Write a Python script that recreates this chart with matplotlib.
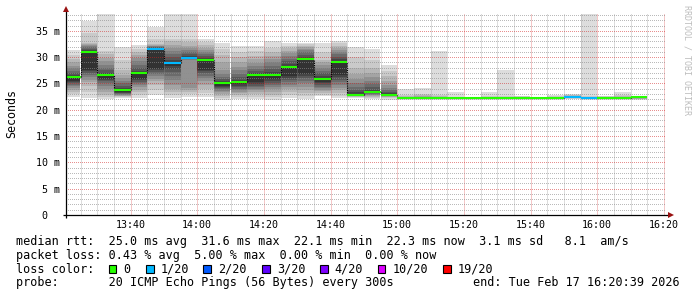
import numpy as np
import pandas as pd
import matplotlib
matplotlib.use("Agg")
import matplotlib.pyplot as plt
import matplotlib.dates as mdates
from matplotlib.patches import Rectangle
from matplotlib.transforms import blended_transform_factory

W, H = 697, 297
MONO = "DejaVu Sans Mono"

# 5 minute steps, first one starts 13:20 (cut by the left edge)
step_times = pd.date_range("2026-02-17 13:20", periods=35, freq="5min")
view_start = pd.Timestamp("2026-02-17 13:20:39")
view_end = pd.Timestamp("2026-02-17 16:20:39")

median_ms = [26.2, 31.0, 26.6, 23.8, 26.9, 31.6, 28.9, 29.9, 29.4, 25.0,
             25.2, 26.6, 26.6, 28.2, 29.7, 25.9, 29.1, 22.9, 23.3, 22.9,
             22.2, 22.3, 22.3, 22.2, 22.2, 22.3, 22.2, 22.3, 22.2, 22.2,
             22.5, 22.2, 22.3, 22.3, 22.4]
lost_pings = [0, 0, 0, 0, 0, 1, 1, 1, 0, 0,
              0, 0, 0, 0, 0, 0, 0, 0, 0, 0,
              0, 0, 0, 0, 0, 0, 0, 0, 0, 0,
              1, 1, 0, 0, 0]

# 20 sorted ping rtts (ms) for each step
pings_ms = [
    [22.4, 23.0, 23.3, 23.7, 24.1, 24.5, 24.8, 25.0, 25.2, 25.4, 26.2, 26.6, 27.0, 27.4, 27.9, 28.4, 29.0, 29.7, 30.4, 31.4],
    [22.2, 23.4, 24.6, 25.2, 25.7, 26.2, 26.6, 27.0, 27.3, 27.6, 31.0, 31.3, 31.6, 31.9, 32.1, 32.3, 32.5, 32.7, 34.5, 36.8],
    [22.0, 22.4, 22.8, 23.3, 23.9, 24.5, 25.0, 25.4, 25.7, 25.9, 26.6, 27.0, 27.5, 28.0, 28.6, 29.2, 29.9, 30.6, 31.1, 40.0],
    [22.3, 22.5, 22.6, 22.7, 22.8, 22.9, 23.0, 23.1, 23.2, 23.3, 23.8, 24.2, 24.6, 25.0, 25.5, 26.0, 26.6, 27.6, 29.5, 31.9],
    [22.3, 22.8, 23.3, 23.8, 24.3, 24.7, 25.0, 25.3, 25.6, 25.9, 26.9, 27.4, 28.0, 28.6, 29.2, 29.8, 30.4, 31.0, 31.6, 32.3],
    [22.8, 23.8, 24.8, 25.4, 25.9, 26.4, 26.8, 27.2, 27.5, 27.8, 31.6, 31.8, 31.9, 32.0, 32.1, 32.2, 32.3, 32.5, 33.5, 35.8],
    [22.3, 22.8, 23.4, 24.0, 24.8, 25.6, 26.4, 27.2, 27.8, 28.3, 28.9, 29.5, 30.0, 30.6, 31.2, 31.8, 32.4, 33.0, 33.4, 40.0],
    [22.5, 23.0, 23.4, 23.8, 24.1, 29.5, 29.6, 29.7, 29.8, 29.85, 29.9, 30.3, 30.6, 30.9, 31.3, 31.7, 32.2, 32.8, 33.4, 40.0],
    [22.4, 23.2, 24.0, 24.8, 25.4, 26.0, 26.5, 27.0, 27.3, 27.6, 29.4, 29.8, 30.2, 30.6, 31.0, 31.4, 31.8, 32.3, 32.8, 33.4],
    [21.9, 22.3, 22.7, 23.0, 23.3, 23.6, 23.9, 24.1, 24.3, 24.5, 25.0, 25.4, 25.8, 26.2, 26.8, 27.5, 29.0, 30.5, 31.5, 32.7],
    [22.0, 22.4, 22.8, 23.1, 23.4, 23.7, 24.0, 24.3, 24.6, 24.9, 25.2, 25.6, 26.2, 26.8, 27.5, 28.2, 29.0, 30.0, 31.0, 32.1],
    [22.0, 22.5, 23.0, 23.4, 23.7, 24.0, 24.3, 24.6, 24.9, 25.3, 26.6, 27.0, 27.4, 27.8, 28.3, 28.9, 29.6, 30.3, 31.2, 32.1],
    [21.9, 22.4, 22.9, 23.4, 23.9, 24.3, 24.7, 25.1, 25.5, 25.9, 26.6, 27.2, 27.8, 28.4, 29.0, 29.6, 30.3, 31.0, 31.8, 33.0],
    [22.2, 22.8, 23.4, 23.9, 24.4, 24.8, 25.2, 25.6, 26.0, 26.4, 28.2, 28.7, 29.2, 29.7, 30.2, 30.7, 31.2, 31.7, 32.2, 32.7],
    [22.0, 22.6, 23.2, 23.8, 24.4, 25.0, 25.5, 26.0, 26.4, 26.8, 29.7, 30.1, 30.5, 30.9, 31.3, 31.6, 31.9, 32.2, 32.5, 32.7],
    [22.6, 22.9, 23.2, 23.5, 23.8, 24.1, 24.4, 24.7, 25.0, 25.3, 25.9, 26.4, 26.9, 27.4, 27.9, 28.5, 29.0, 29.5, 31.0, 32.7],
    [22.2, 22.7, 23.2, 23.7, 24.2, 24.7, 25.2, 25.7, 26.2, 26.6, 29.1, 29.6, 30.1, 30.6, 31.0, 31.4, 31.8, 32.2, 32.6, 33.0],
    [22.2, 22.4, 22.5, 22.6, 22.7, 22.8, 22.85, 22.9, 22.92, 22.94, 22.95, 23.3, 23.8, 24.4, 25.0, 25.8, 26.8, 28.0, 30.0, 32.0],
    [22.0, 22.3, 22.5, 22.7, 22.8, 22.9, 23.0, 23.1, 23.2, 23.25, 23.3, 23.8, 24.3, 24.9, 25.5, 26.2, 27.0, 28.0, 29.5, 31.5],
    [21.9, 22.2, 22.4, 22.5, 22.6, 22.7, 22.75, 22.8, 22.85, 22.88, 22.9, 23.1, 23.4, 23.8, 24.2, 24.8, 25.5, 26.4, 27.4, 28.5],
    [21.9, 22.0, 22.0, 22.1, 22.1, 22.1, 22.15, 22.15, 22.2, 22.2, 22.2, 22.25, 22.3, 22.3, 22.35, 22.4, 22.5, 22.6, 22.8, 23.9],
    [21.9, 22.0, 22.1, 22.1, 22.15, 22.2, 22.2, 22.25, 22.25, 22.3, 22.3, 22.3, 22.35, 22.4, 22.4, 22.5, 22.6, 22.8, 23.0, 24.2],
    [21.9, 22.0, 22.1, 22.1, 22.15, 22.2, 22.2, 22.25, 22.25, 22.3, 22.3, 22.3, 22.35, 22.4, 22.4, 22.45, 22.5, 22.6, 22.8, 31.1],
    [21.9, 22.0, 22.0, 22.1, 22.1, 22.1, 22.15, 22.15, 22.2, 22.2, 22.2, 22.2, 22.25, 22.25, 22.3, 22.3, 22.35, 22.4, 22.5, 23.4],
    [21.9, 22.0, 22.0, 22.1, 22.1, 22.1, 22.15, 22.15, 22.2, 22.2, 22.2, 22.2, 22.25, 22.25, 22.3, 22.3, 22.3, 22.35, 22.4, 22.5],
    [21.9, 22.0, 22.0, 22.1, 22.1, 22.15, 22.15, 22.2, 22.2, 22.25, 22.3, 22.3, 22.3, 22.35, 22.35, 22.4, 22.45, 22.5, 22.6, 23.4],
    [21.9, 22.0, 22.0, 22.05, 22.1, 22.1, 22.1, 22.15, 22.15, 22.2, 22.2, 22.2, 22.25, 22.25, 22.3, 22.35, 22.4, 22.5, 22.7, 27.6],
    [21.9, 22.0, 22.1, 22.1, 22.15, 22.15, 22.2, 22.2, 22.25, 22.25, 22.3, 22.3, 22.3, 22.35, 22.35, 22.4, 22.45, 22.5, 22.55, 22.7],
    [21.9, 22.0, 22.0, 22.1, 22.1, 22.1, 22.15, 22.15, 22.2, 22.2, 22.2, 22.2, 22.25, 22.25, 22.3, 22.3, 22.3, 22.35, 22.4, 22.5],
    [21.9, 22.0, 22.0, 22.1, 22.1, 22.1, 22.15, 22.15, 22.2, 22.2, 22.2, 22.25, 22.25, 22.3, 22.3, 22.35, 22.4, 22.5, 22.6, 22.9],
    [22.0, 22.1, 22.15, 22.2, 22.25, 22.3, 22.3, 22.35, 22.4, 22.45, 22.5, 22.5, 22.55, 22.6, 22.6, 22.65, 22.7, 22.75, 22.8, 23.0],
    [21.9, 22.0, 22.0, 22.1, 22.1, 22.1, 22.15, 22.15, 22.2, 22.2, 22.2, 22.25, 22.25, 22.3, 22.3, 22.35, 22.4, 22.5, 22.6, 40.0],
    [21.9, 22.0, 22.0, 22.1, 22.1, 22.15, 22.15, 22.2, 22.2, 22.25, 22.3, 22.3, 22.3, 22.35, 22.35, 22.4, 22.45, 22.5, 22.55, 22.6],
    [21.9, 22.0, 22.0, 22.1, 22.1, 22.15, 22.15, 22.2, 22.2, 22.25, 22.3, 22.3, 22.3, 22.35, 22.4, 22.45, 22.5, 22.6, 22.8, 23.4],
    [21.9, 22.0, 22.1, 22.1, 22.15, 22.2, 22.2, 22.25, 22.3, 22.3, 22.4, 22.4, 22.4, 22.45, 22.45, 22.5, 22.5, 22.55, 22.6, 22.6],
]

loss_levels = [0, 1, 2, 3, 4, 10, 19]
loss_labels = ["0", "1/20", "2/20", "3/20", "4/20", "10/20", "19/20"]
loss_colors = ["#26ff00", "#00b8ff", "#0059ff", "#5e00ff", "#7e00ff", "#dd00ff", "#ff0000"]

ytick_vals = [0, 5, 10, 15, 20, 25, 30, 35]
ytick_labels = ["0", "5 m", "10 m", "15 m", "20 m", "25 m", "30 m", "35 m"]

legend_lines = [
    "median rtt:  25.0 ms avg  31.6 ms max  22.1 ms min  22.3 ms now  3.1 ms sd   8.1  am/s",
    "packet loss: 0.43 % avg  5.00 % max  0.00 % min  0.00 % now",
    "loss color:",
    "probe:       20 ICMP Echo Pings (56 Bytes) every 300s",
]
end_text = "end: Tue Feb 17 16:20:39 2026"


def fx(x):
    return x / W


def fy(y):
    return 1 - y / H


def color_for_loss(n):
    c = loss_colors[0]
    for lvl, col in zip(loss_levels, loss_colors):
        if n >= lvl:
            c = col
    return c


fig = plt.figure(figsize=(W / 100, H / 100), dpi=100, facecolor="white")
ax = fig.add_axes([fx(66), fy(215), 600 / W, 201 / H])
ax.set_facecolor("white")

x0 = mdates.date2num(step_times.to_pydatetime())
width = 5 / 1440.0
pk = np.array(pings_ms)

# smoke: pairs of pings from the outside in, darker towards the middle
half = 10
for p in range(half):
    g = int(190 / half * (half - 1 - p)) + 50
    col = "#%02x%02x%02x" % (g, g, g)
    lo = pk[:, p]
    hi = pk[:, 19 - p]
    ax.bar(x0, hi - lo, width=width, bottom=lo, align="edge",
           color=col, linewidth=0, antialiased=False, zorder=1)

# median, coloured by loss
med_cols = [color_for_loss(n) for n in lost_pings]
ax.hlines(median_ms, x0, x0 + width, colors=med_cols, lw=1.5, zorder=4)
for i in range(len(median_ms) - 1):
    a, b = median_ms[i], median_ms[i + 1]
    ax.vlines(x0[i] + width, min(a, b), max(a, b), colors="black",
              linestyles=(0, (1, 1)), lw=0.8, zorder=3)

ax.set_xlim(mdates.date2num(view_start), mdates.date2num(view_end))
ax.set_ylim(0, 38.2)

ax.xaxis.set_major_locator(mdates.MinuteLocator(byminute=[0, 20, 40]))
ax.xaxis.set_minor_locator(mdates.MinuteLocator(byminute=range(0, 60, 5)))
ax.xaxis.set_major_formatter(mdates.DateFormatter("%H:%M"))
ax.set_yticks(ytick_vals)
ax.set_yticks(np.arange(0, 39, 1), minor=True)
ax.set_yticklabels([])

ax.set_axisbelow(False)
ax.yaxis.grid(True, which="minor", color="#8c8c8c", alpha=0.6, lw=0.72,
              linestyle=(0.5, (1, 1)))
ax.yaxis.grid(True, which="major", color="#d02020", alpha=0.5, lw=0.72,
              linestyle=(0.5, (1, 1)))
ax.xaxis.grid(True, which="minor", color="#8c8c8c", alpha=0.6, lw=0.72,
              linestyle=(0, (1, 1)))
ax.xaxis.grid(True, which="major", color="#d02020", alpha=0.5, lw=0.72,
              linestyle=(0, (1, 1)))

ax.tick_params(which="both", length=0)
ax.tick_params(axis="x", pad=3.5, labelsize=7.2, labelcolor="#000000")
for lab in ax.get_xticklabels():
    lab.set_fontfamily(MONO)

ytrans = blended_transform_factory(fig.transFigure, ax.transData)
for v, lab in zip(ytick_vals, ytick_labels):
    xr = 60 if " " in lab else 47
    ax.text(fx(xr), v, lab, transform=ytrans, ha="right", va="center_baseline",
            fontsize=7.2, family=MONO, color="black")

for s in ax.spines.values():
    s.set_visible(False)

# axes with arrows
ax.plot([0, 0], [-3 / 201, 1 + 3 / 201], transform=ax.transAxes, color="black",
        lw=0.9, clip_on=False, zorder=5, solid_capstyle="butt")
ax.plot([-3 / 600, 1 + 3 / 600], [0, 0], transform=ax.transAxes, color="black",
        lw=0.9, clip_on=False, zorder=5, solid_capstyle="butt")
ax.plot([0], [1 + 5 / 201], transform=ax.transAxes, marker="^", ms=4.2,
        color="#991111", mew=0, clip_on=False, zorder=6)
ax.plot([1 + 5 / 600], [0], transform=ax.transAxes, marker=">", ms=4.2,
        color="#991111", mew=0, clip_on=False, zorder=6)

fig.text(fx(12), fy(114), "Seconds", rotation=90, ha="center", va="center",
         fontsize=8.4, family=MONO, color="black")
fig.text(fx(687), fy(60), "RRDTOOL / TOBI OETIKER", rotation=270, ha="center",
         va="center", fontsize=6.0, family=MONO, color="#bdbdbd")

baselines = [245.3, 258.7, 272.7, 286.3]
for line, yb in zip(legend_lines, baselines):
    fig.text(fx(16), fy(yb), line, ha="left", va="baseline",
             fontsize=8.45, family=MONO, color="black")
fig.text(fx(680), fy(baselines[3]), end_text, ha="right", va="baseline",
         fontsize=8.45, family=MONO, color="black")

box_x = [108.7, 146, 203.3, 262, 320, 377.7, 443]
text_x = [123.3, 160.7, 218, 276.7, 334, 392.3, 457.7]
for bx, tx, col, lab in zip(box_x, text_x, loss_colors, loss_labels):
    fig.add_artist(Rectangle((fx(bx), fy(273.3)), 7.5 / W, 8 / H, transform=fig.transFigure,
                             facecolor=col, edgecolor="black", lw=0.8))
    fig.text(fx(tx), fy(baselines[2]), lab, ha="left", va="baseline",
             fontsize=8.45, family=MONO, color="black")

fig.savefig("out.png", dpi=100, facecolor="white")
